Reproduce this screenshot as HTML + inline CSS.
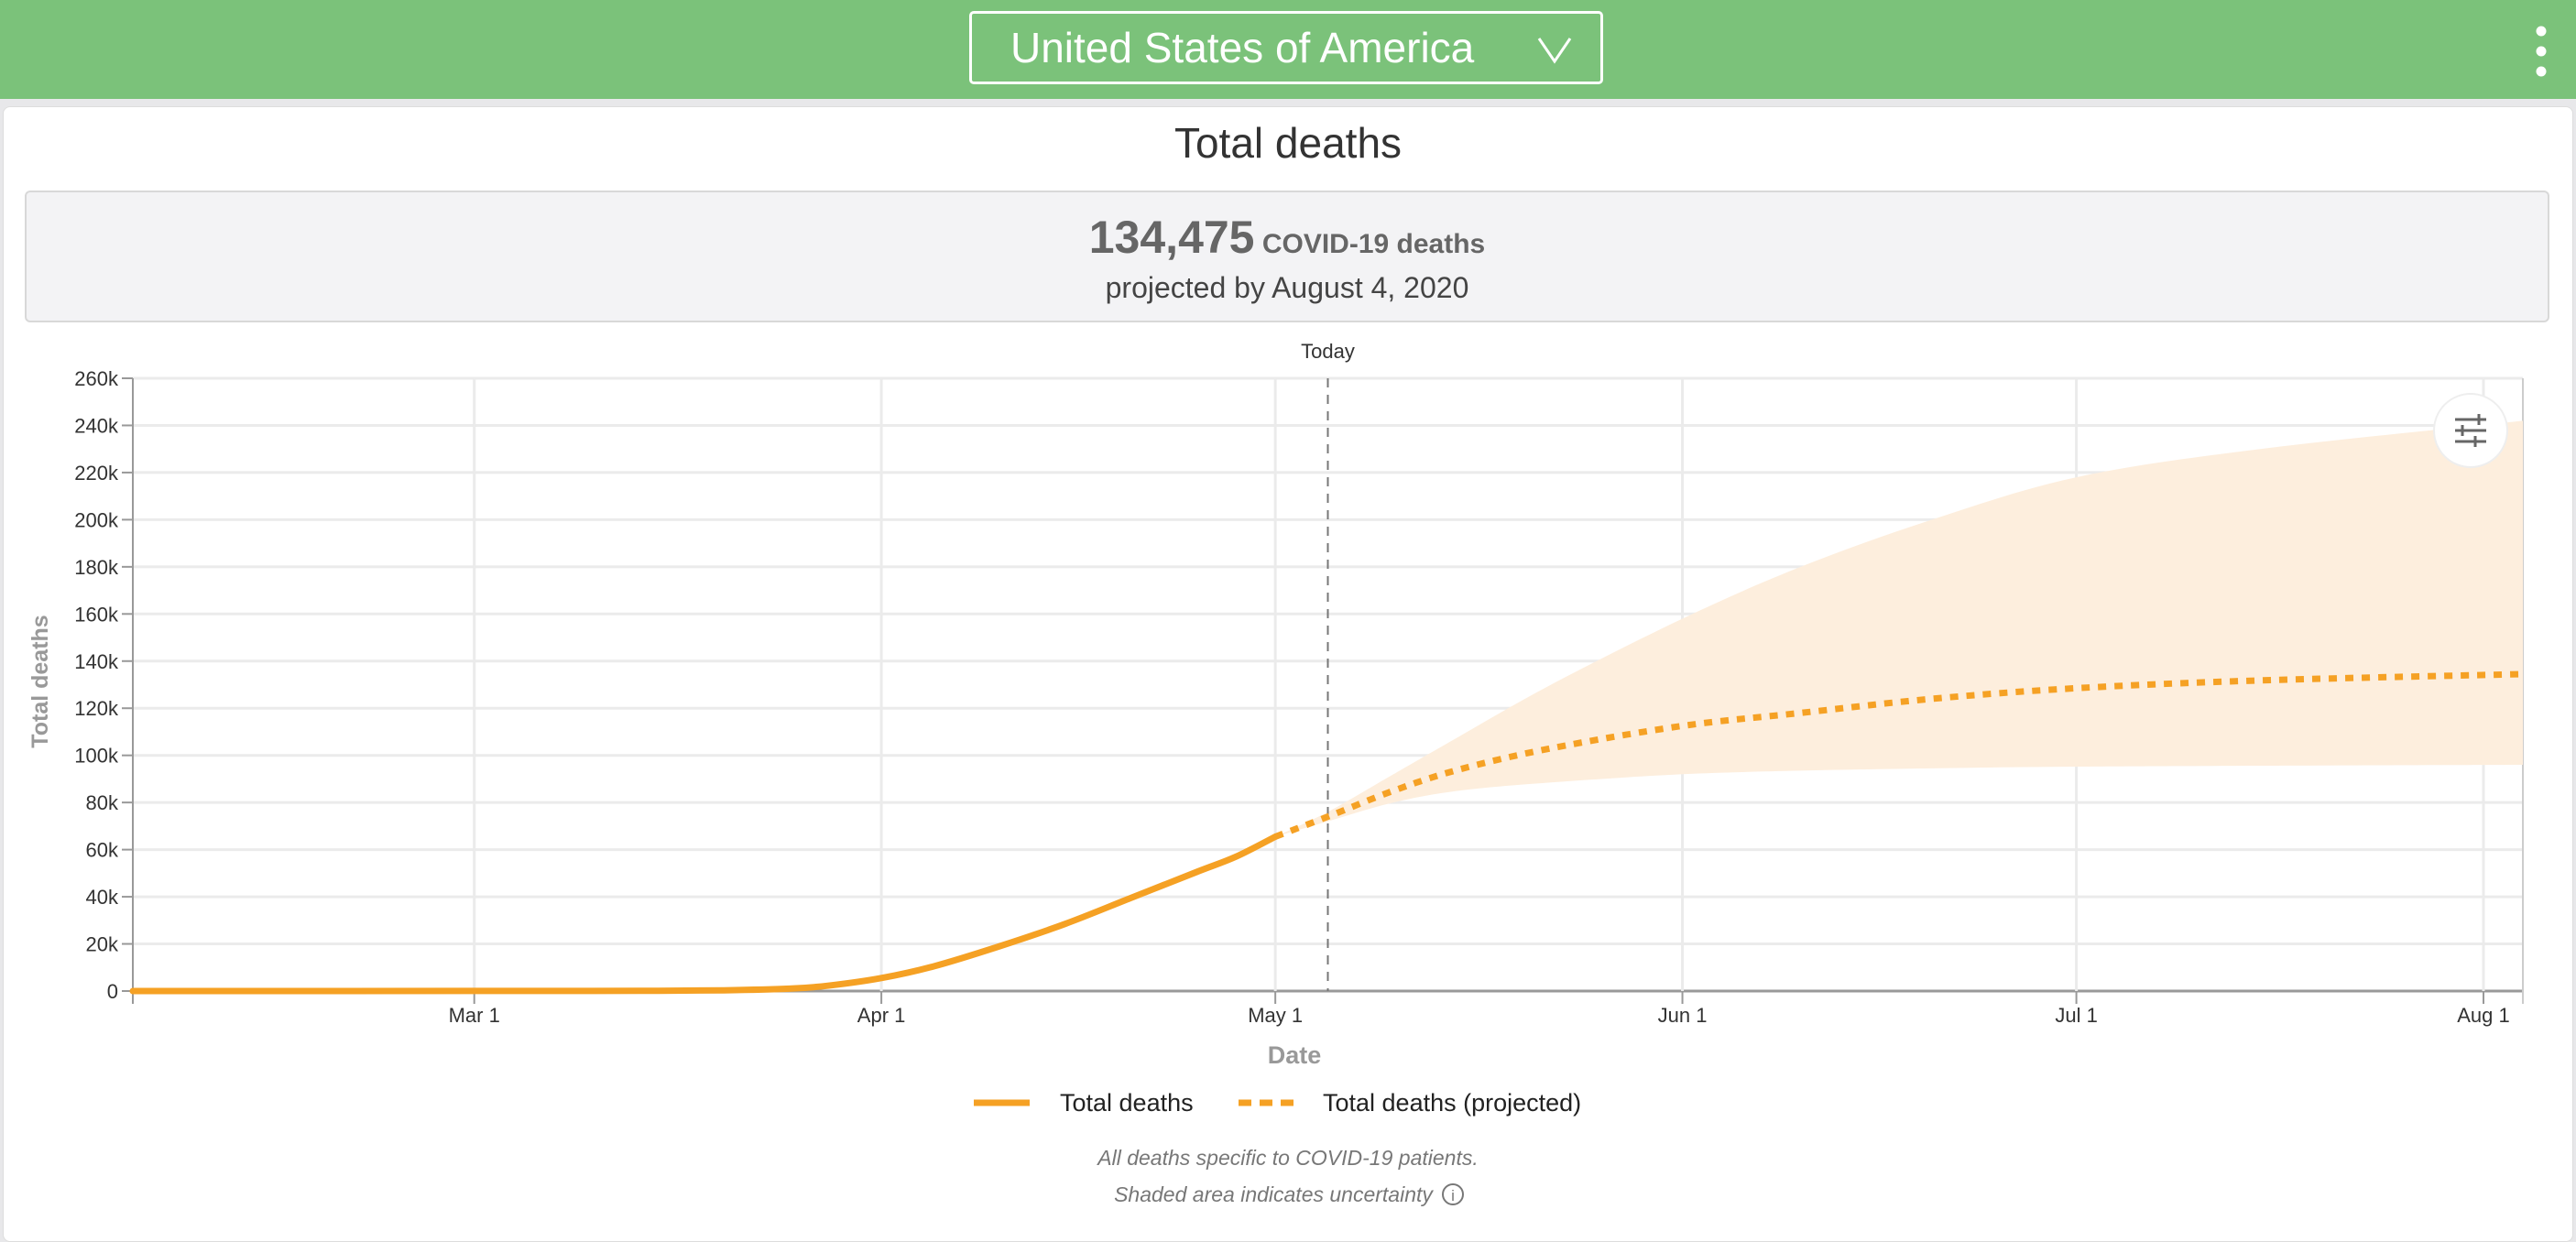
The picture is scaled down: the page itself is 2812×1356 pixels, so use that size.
<!DOCTYPE html>
<html><head><meta charset="utf-8">
<style>
html,body{margin:0;padding:0;width:2812px;height:1336px;overflow:hidden;background:#e8e8ea;font-family:"Liberation Sans",sans-serif}
#header{position:absolute;left:0;top:0;width:2812px;height:108px;background:#7bc27a}
#dropdown{position:absolute;left:1058px;top:12px;width:692px;height:80px;border:3px solid #fff;border-radius:5px;box-sizing:border-box;color:#fff;font-size:46px;line-height:74px;padding-left:42px}
#menu{position:absolute;left:2766px;top:28px}
#card{position:absolute;left:3px;top:116px;width:2806px;height:1240px;background:#fff;border-radius:8px;border:1px solid #ddd;box-sizing:border-box}
#title{position:absolute;left:0;top:124px;width:2812px;text-align:center;font-size:46px;color:#333;line-height:64px}
#summary{position:absolute;left:27px;top:208px;width:2756px;height:144px;background:#f3f3f5;border:2px solid #d8d8d8;border-radius:6px;box-sizing:border-box;text-align:center;color:#555}
#big{position:absolute;top:20px;left:0;width:100%;font-size:30px;font-weight:bold;color:#666}
#big b{font-size:50px}
#proj{position:absolute;top:86px;left:0;width:100%;font-size:32px;color:#444}
svg{position:absolute;left:0;top:0}
</style></head><body>
<div id="header"></div>
<div id="dropdown">United States of America
<svg width="40" height="32" style="position:absolute;left:auto;top:24px;right:30px"><polyline points="3,3 20,28 37,3" fill="none" stroke="#fff" stroke-width="3"/></svg></div>
<svg id="menu" width="16" height="56" style="left:2766px;top:28px"><circle cx="8" cy="6" r="5.5" fill="#fff"/><circle cx="8" cy="28" r="5.5" fill="#fff"/><circle cx="8" cy="50" r="5.5" fill="#fff"/></svg>
<div id="card"></div>
<div id="title">Total deaths</div>
<div id="summary">
<div id="big"><b>134,475</b> COVID-19 deaths</div>
<div id="proj">projected by August 4, 2020</div>
</div>
<svg id="chart" width="2812" height="1336"></svg>
<script>
const startDate="2020-02-04", endDate="2020-08-04", todayDate="2020-05-05";
const yTicks=[0,20000,40000,60000,80000,100000,120000,140000,160000,180000,200000,220000,240000,260000];
const yTickLabels=["0","20k","40k","60k","80k","100k","120k","140k","160k","180k","200k","220k","240k","260k"];
const xTickDates=["2020-03-01","2020-04-01","2020-05-01","2020-06-01","2020-07-01","2020-08-01"];
const xTickLabels=["Mar 1","Apr 1","May 1","Jun 1","Jul 1","Aug 1"];
const actualDates=["2020-02-04","2020-03-01","2020-03-10","2020-03-15","2020-03-20","2020-03-25","2020-03-28","2020-04-01","2020-04-05","2020-04-10","2020-04-15","2020-04-20","2020-04-25","2020-04-28","2020-05-01"];
const actualValues=[0,30,60,120,300,1000,2300,5500,10500,19000,28500,39500,50500,57000,65500];
const projDates=["2020-05-01","2020-05-05","2020-05-10","2020-05-15","2020-05-22","2020-06-01","2020-06-10","2020-06-20","2020-07-01","2020-07-15","2020-08-04"];
const projValues=[65500,74000,85000,94000,103000,112500,118000,124000,128500,131800,134475];
const upperValues=[65500,76000,92000,108000,130000,158000,180000,200000,218000,230000,242000];
const lowerValues=[65500,72000,80000,85000,88500,92000,93500,94500,95200,95600,96000];

const svg=document.getElementById('chart');
const NS="http://www.w3.org/2000/svg";
const X0=145,X1=2754,Y0=1082,Y1=413;
const t0=Date.parse(startDate),t1=Date.parse(endDate);
function xs(d){return X0+(Date.parse(d)-t0)/(t1-t0)*(X1-X0);}
function ys(v){return Y0-v/260000*(Y0-Y1);}
function mk(tag,attrs,parent){const e=document.createElementNS(NS,tag);for(const k in attrs)e.setAttribute(k,attrs[k]);(parent||svg).appendChild(e);return e;}
function smooth(pts){let d="M"+pts[0][0]+","+pts[0][1];for(let i=0;i<pts.length-1;i++){const p0=pts[Math.max(0,i-1)],p1=pts[i],p2=pts[i+1],p3=pts[Math.min(pts.length-1,i+2)];
const c1=[p1[0]+(p2[0]-p0[0])/6,p1[1]+(p2[1]-p0[1])/6],c2=[p2[0]-(p3[0]-p1[0])/6,p2[1]-(p3[1]-p1[1])/6];
d+=" C"+c1[0]+","+c1[1]+" "+c2[0]+","+c2[1]+" "+p2[0]+","+p2[1];}return d;}

yTicks.forEach((v,i)=>{
 const g=mk('line',{x1:X0,x2:X1,y1:ys(v),y2:ys(v),stroke:i==0?'#999':'#ebebeb','stroke-width':3});
 
 
 mk('line',{x1:X0-12,x2:X0,y1:ys(v),y2:ys(v),stroke:'#999','stroke-width':2});
 const t=mk('text',{x:X0-16,y:ys(v)+8,'text-anchor':'end','font-size':22,fill:'#333'});
 t.textContent=yTickLabels[i];
 
 
});
xTickDates.forEach((d,i)=>{
 const x=xs(d);
 const g=mk('line',{x1:x,x2:x,y1:Y1,y2:Y0,stroke:'#ebebeb','stroke-width':3});
 
 
 mk('line',{x1:x,x2:x,y1:Y0,y2:Y0+14,stroke:'#999','stroke-width':2});
 const t=mk('text',{x:x,y:Y0+34,'text-anchor':'middle','font-size':22,fill:'#333'});
 t.textContent=xTickLabels[i];
 
 
});
mk('line',{x1:X0,x2:X0,y1:Y1,y2:Y0+14,stroke:'#999','stroke-width':2});
mk('line',{x1:X1,x2:X1,y1:Y1,y2:Y0+14,stroke:'#ccc','stroke-width':2});

const up=projDates.map((d,i)=>[xs(d),ys(upperValues[i])]);
const lo=projDates.map((d,i)=>[xs(d),ys(lowerValues[i])]).reverse();
const loPath=smooth(lo);
const bandPath=smooth(up)+" L"+lo[0][0]+","+lo[0][1]+loPath.slice(loPath.indexOf(' C'))+" Z";
const band=mk('path',{d:bandPath,fill:'#fdeedd'});



const tx=xs(todayDate);
const tl=mk('line',{x1:tx,x2:tx,y1:Y1,y2:Y0,stroke:'#777','stroke-width':2,'stroke-dasharray':'10,8'});


const tt=mk('text',{x:tx,y:391,'text-anchor':'middle','font-size':22,fill:'#333'});
tt.textContent='Today';



const act=mk('path',{d:smooth(actualDates.map((d,i)=>[xs(d),ys(actualValues[i])])),fill:'none',stroke:'#f5a124','stroke-width':7,'stroke-linecap':'round'});


const pr=mk('path',{d:smooth(projDates.map((d,i)=>[xs(d),ys(projValues[i])])),fill:'none',stroke:'#f5a124','stroke-width':7,'stroke-dasharray':'9,9'});



const yt=mk('text',{x:0,y:0,transform:'translate(52,744) rotate(-90)','text-anchor':'middle','font-size':25,'font-weight':'bold',fill:'#999'});
yt.textContent='Total deaths';


const xt=mk('text',{x:1413,y:1161,'text-anchor':'middle','font-size':27,'font-weight':'bold',fill:'#999'});
xt.textContent='Date';



const sb=mk('g',{});


mk('circle',{cx:2697,cy:470,r:40,fill:'#fff',stroke:'#eee','stroke-width':2},sb);
[458,470,482].forEach((y,i)=>{mk('line',{x1:2680,x2:2714,y1:y,y2:y,stroke:'#666','stroke-width':3},sb);mk('line',{x1:[2706,2688,2702][i],x2:[2706,2688,2702][i],y1:y-6,y2:y+6,stroke:'#666','stroke-width':3},sb);});

const lg=mk('g',{});


mk('line',{x1:1063,x2:1124,y1:1204,y2:1204,stroke:'#f5a124','stroke-width':7},lg);
let lt=mk('text',{x:1157,y:1213,'font-size':27,fill:'#222'},lg);lt.textContent='Total deaths';
mk('line',{x1:1352,x2:1413,y1:1204,y2:1204,stroke:'#f5a124','stroke-width':7,'stroke-dasharray':'14,9'},lg);
lt=mk('text',{x:1444,y:1213,'font-size':27,fill:'#222'},lg);lt.textContent='Total deaths (projected)';

let fn=mk('text',{x:1406,y:1272,'text-anchor':'middle','font-size':23,'font-style':'italic',fill:'#777'});
fn.textContent='All deaths specific to COVID-19 patients.';


fn=mk('text',{x:1390,y:1312,'text-anchor':'middle','font-size':23,'font-style':'italic',fill:'#777'});
fn.textContent='Shaded area indicates uncertainty';


const ic=mk('g',{});


mk('circle',{cx:1586,cy:1304,r:11,fill:'none',stroke:'#777','stroke-width':2},ic);
const it=mk('text',{x:1586,y:1311,'text-anchor':'middle','font-size':17,fill:'#777'},ic);it.textContent='i';
</script>
</body></html>
